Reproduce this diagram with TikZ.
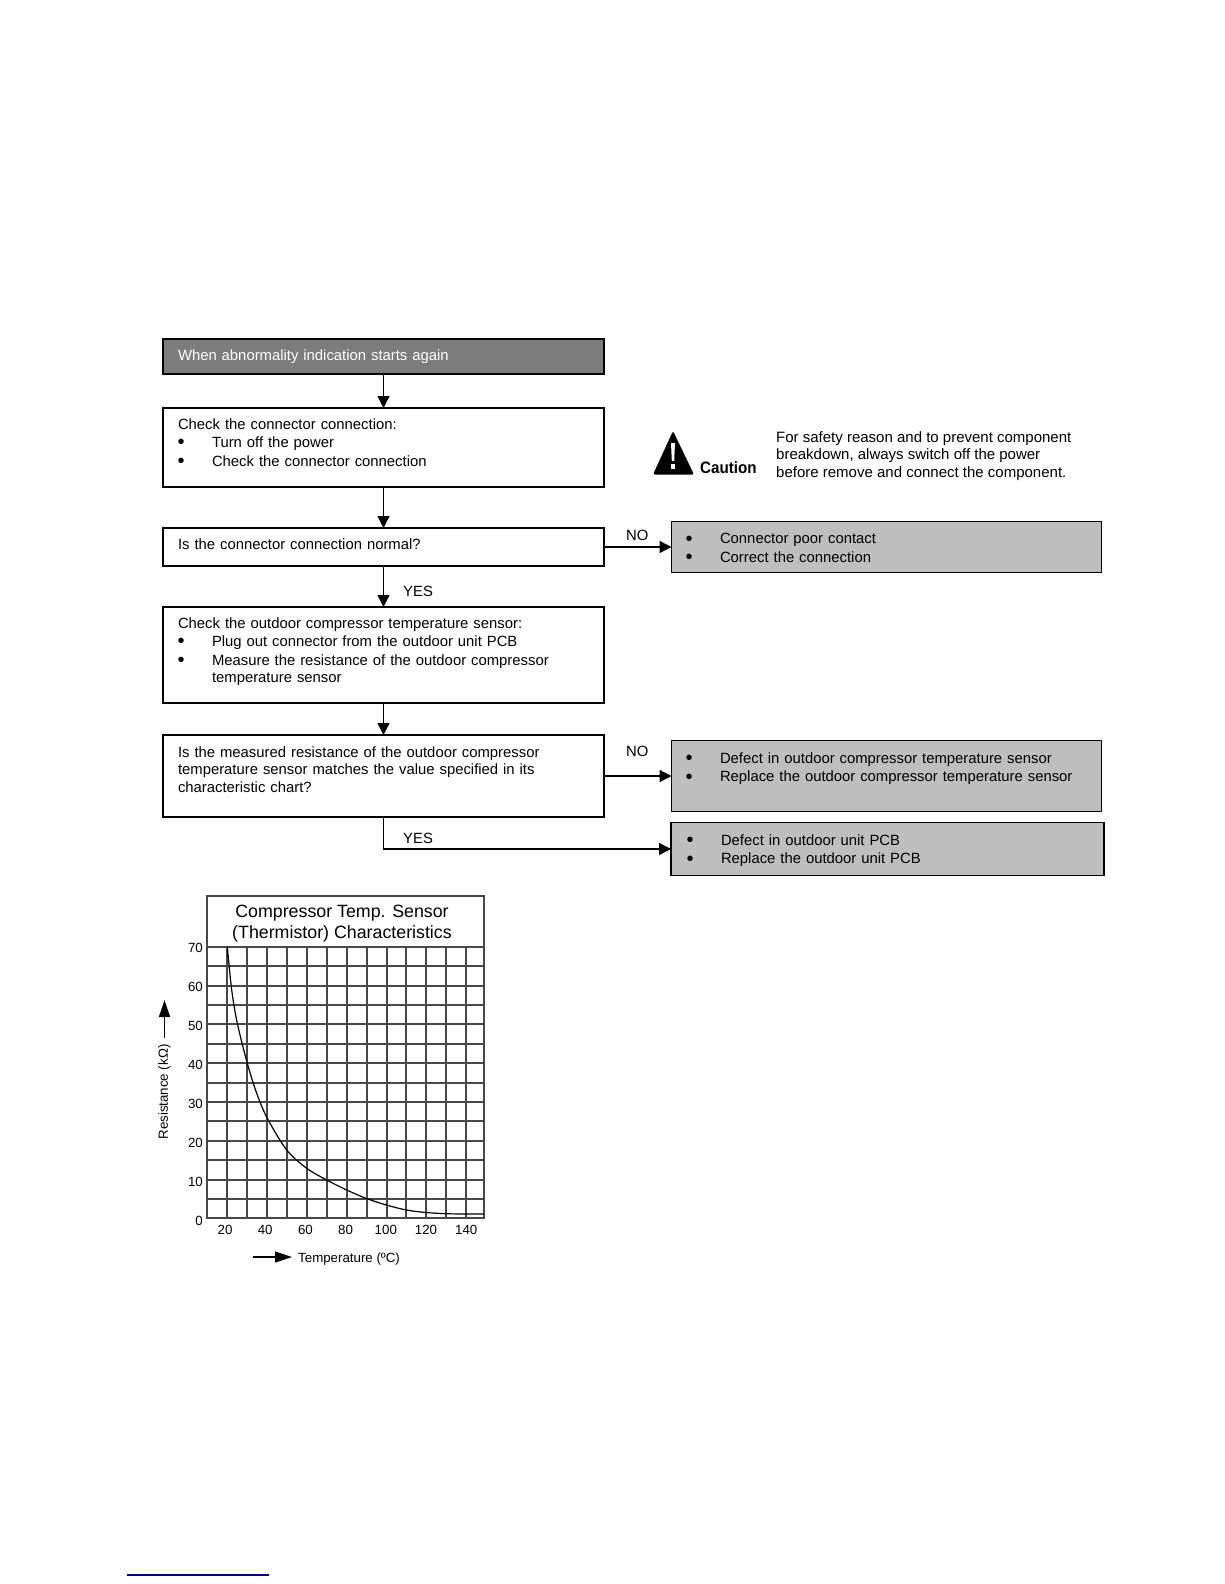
\documentclass[tikz,border=0pt]{standalone}
\usepackage{fontspec}
\setmainfont{Liberation Sans}
\usetikzlibrary{shapes,arrows,arrows.meta}
\newcommand{\bul}{\makebox[34pt][l]{\hspace*{-0.5pt}\raisebox{-1.4pt}{\scalebox{1.35}{\textbullet}}}}
\newcommand{\tl}{\rule{0pt}{14pt}}
\newcommand{\dn}[1]{\rule[-#1pt]{0pt}{#1pt}}
\definecolor{headgray}{HTML}{7C7C7C}
\definecolor{failgray}{HTML}{BEBEBE}
\definecolor{linkblue}{HTML}{000088}

\begin{document}
\begin{tikzpicture}[x=1pt, y=-1pt, node distance = 100pt]
    \tikzstyle{block} = [rectangle, draw, line width=1.3pt, outer sep=0pt, inner xsep=15pt, inner ysep=0pt, minimum width=441pt, text width=411pt, align=left, font=\fontsize{14.85}{18.5}\selectfont]
    \tikzstyle{fail} = [block, fill=failgray, inner xsep=14.5pt, minimum width=430pt, text width=401pt]
    \tikzstyle{start} = [block, fill=headgray, text=white]
    \tikzstyle{line} = [draw, line width=1.3pt, -{Triangle[width=12pt,length=12pt]}]
    \tikzstyle{label} = [inner sep=0pt, anchor=base west, font=\fontsize{14.85}{18.5}\selectfont]
    \tikzstyle{tick} = [inner sep=0pt, font=\fontsize{13.3}{15}\selectfont]
    \tikzstyle{grid line} = [line width=2pt, black!72]
    \useasboundingbox (0,0) rectangle (1224,1584);

    \node [start, minimum height=35pt] at (383.5,356.5) (again) {\tl When abnormality indication starts again\dn{7}};
    \node [block, below of=again, node distance=91pt, minimum height=79pt] (connector) {\tl Check the connector connection:\\ \bul Turn off the power\\ \bul Check the connector connection\dn{14}};
    \node [block, below of=connector, node distance=99.5pt, minimum height=38pt] (normal) {\tl Is the connector connection normal?\dn{10}};
    \node [block, below of=normal, node distance=108pt, minimum height=96pt] (sensor) {\tl Check the outdoor compressor temperature sensor:\\ \bul Plug out connector from the outdoor unit PCB\\ \bul Measure the resistance of the outdoor compressor\\[-1.5pt] \hspace*{34pt}temperature sensor\dn{14}};
    \node [block, below of=sensor, node distance=121pt, minimum height=82pt] (measured) {\tl Is the measured resistance of the outdoor compressor\\[-1pt] temperature sensor matches the value specified in its\\[-1pt] characteristic chart?\dn{17}};

    \node [fail, right of=normal, node distance=503pt, minimum height=51pt] (poor) {\tl \bul Connector poor contact\\ \bul Correct the connection\dn{2}};
    \node [fail, right of=measured, node distance=503pt, minimum height=71pt] (defect) {\tl \bul Defect in outdoor compressor temperature sensor\\ \bul Replace the outdoor compressor temperature sensor\dn{21}};
    \node [fail, below of=defect, node distance=73pt, xshift=1pt, minimum width=433pt, minimum height=53pt] (pcb) {\tl \bul Defect in outdoor unit PCB\\ \bul Replace the outdoor unit PCB\dn{3}};

    \path [line] (again) -- (connector);
    \path [line] (connector) -- (normal);
    \path [line] (normal) -- (sensor);
    \path [line] (sensor) -- (measured);
    \path [line] (normal.east) -- (poor.west);
    \path [line] (measured.east) -- (defect.west);
    \path [line] (measured.south) |- (pcb.west);

    \node [label] at (403,596) (yes 1) {YES};
    \node [label] at (403,843) (yes 2) {YES};
    \node [label] at (626,540) (no 1) {NO};
    \node [label] at (626,756) (no 2) {NO};

    % caution sign
    \fill [rounded corners=2pt] (673,431) -- (694,474.5) -- (653,474.5) -- cycle;
    \fill [white] (671,443) -- (675,443) -- (674.2,461) -- (671.8,461) -- cycle;
    \fill [white] (671,464) rectangle (675,469);
    \node [label, font=\fontsize{16.5}{18}\selectfont\bfseries] at (700,473) (caution) {\scalebox{0.92}[1]{Caution}};
    \node [inner sep=0pt, anchor=west, align=left, font=\fontsize{15}{17.5}\selectfont] at (776,456) (safety) {For safety reason and to prevent component\\ breakdown, always switch off the power\\ before remove and connect the component.};

    % characteristic chart
    \draw [grid line] (207,896) rectangle (484,1218.3);
    \foreach \row in {0,...,13}
        \draw [grid line] (207,946.7+19.4*\row) -- (484,946.7+19.4*\row);
    \foreach \col in {0,...,12}
        \draw [grid line] (227.3+19.9*\col,946.7) -- (227.3+19.9*\col,1218.3);
    \draw [line width=1.2pt] plot [smooth] coordinates {(227.3,946.7) (231.7,990) (237.3,1023.3) (247.3,1063.3) (256.7,1093.3) (267.3,1118.3) (286.7,1150) (306.7,1168.3) (326.7,1180) (346.7,1190) (366,1198.3) (386.3,1205) (406.3,1210) (426,1212.5) (446,1213.7) (466,1214) (484,1214)};
    \node [inner sep=0pt, align=center, font=\fontsize{17.8}{21}\selectfont] at (342,924) (title) {Compressor Temp. Sensor\\ (Thermistor) Characteristics};

    \foreach \val [count=\i from 0] in {0,10,...,70}
        \node [tick, anchor=east] at (203,1221-39*\i) (r\val) {\val};
    \foreach \val [count=\i from 0] in {20,40,...,140}
        \node [tick] at (225+40.2*\i,1230) (t\val) {\val};

    \node [tick, rotate=90] at (164.5,1092) (resistance) {Resistance (kΩ)};
    \node [tick, anchor=base west] at (298,1262) (temperature) {Temperature (ºC)};
    \coordinate (r tail) at (164.5,1038);
    \coordinate (r head) at (164.5,1000);
    \coordinate (t tail) at (253,1257);
    \coordinate (t head) at (292,1257);
    \draw [line width=1.3pt, -{Triangle[width=11pt,length=17pt]}] (r tail) -- (r head);
    \draw [line width=1.3pt, -{Triangle[width=11pt,length=17pt]}] (t tail) -- (t head);

    \coordinate (rule left) at (127,1575);
    \coordinate (rule right) at (269,1575);
    \draw [linkblue, line width=1.3pt] (rule left) -- (rule right);
\end{tikzpicture}
\end{document}
